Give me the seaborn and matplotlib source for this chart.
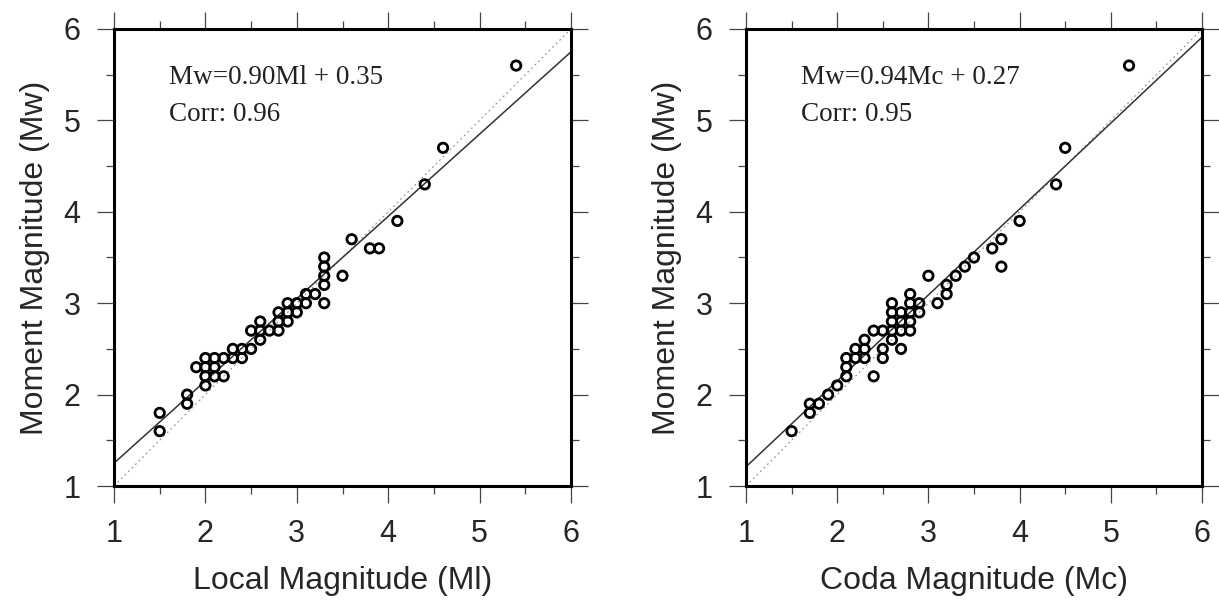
import numpy as np
import pandas as pd
import seaborn as sns
import matplotlib.pyplot as plt
from matplotlib.ticker import MultipleLocator

# Local magnitude vs moment magnitude
ml = [1.5, 1.5, 1.8, 1.8, 1.9, 2.0, 2.0, 2.0, 2.0, 2.1, 2.1, 2.1, 2.2, 2.2,
      2.3, 2.3, 2.4, 2.4, 2.5, 2.5, 2.6, 2.6, 2.6, 2.7, 2.8, 2.8, 2.8, 2.9,
      2.9, 2.9, 3.0, 3.0, 3.1, 3.1, 3.2, 3.3, 3.3, 3.3, 3.3, 3.3, 3.5, 3.6,
      3.8, 3.9, 4.1, 4.4, 4.6, 5.4]
mw_ml = [1.8, 1.6, 2.0, 1.9, 2.3, 2.4, 2.3, 2.2, 2.1, 2.4, 2.3, 2.2, 2.4, 2.2,
         2.5, 2.4, 2.5, 2.4, 2.5, 2.7, 2.8, 2.7, 2.6, 2.7, 2.7, 2.8, 2.9, 2.9,
         3.0, 2.8, 3.0, 2.9, 3.1, 3.0, 3.1, 3.5, 3.4, 3.3, 3.2, 3.0, 3.3, 3.7,
         3.6, 3.6, 3.9, 4.3, 4.7, 5.6]

# Coda magnitude vs moment magnitude
mc = [1.5, 1.7, 1.7, 1.8, 1.9, 2.0, 2.1, 2.1, 2.1, 2.2, 2.2, 2.3, 2.3, 2.3,
      2.4, 2.4, 2.5, 2.5, 2.5, 2.6, 2.6, 2.6, 2.6, 2.6, 2.7, 2.7, 2.7, 2.7,
      2.8, 2.8, 2.8, 2.8, 2.8, 2.9, 2.9, 3.0, 3.1, 3.2, 3.2, 3.3, 3.4, 3.5,
      3.7, 3.8, 3.8, 4.0, 4.4, 4.5, 5.2]
mw_mc = [1.6, 1.9, 1.8, 1.9, 2.0, 2.1, 2.4, 2.3, 2.2, 2.5, 2.4, 2.6, 2.5, 2.4,
         2.7, 2.2, 2.7, 2.5, 2.4, 3.0, 2.9, 2.8, 2.7, 2.6, 2.9, 2.8, 2.7, 2.5,
         3.1, 3.0, 2.9, 2.8, 2.7, 3.0, 2.9, 3.3, 3.0, 3.1, 3.2, 3.3, 3.4, 3.5,
         3.6, 3.7, 3.4, 3.9, 4.3, 4.7, 5.6]

fit_ml = (0.90, 0.35, 0.96)
fit_mc = (0.94, 0.27, 0.95)

sns.set_theme(style="ticks")
plt.rcParams['font.family'] = ['Liberation Sans', 'DejaVu Sans']

fig = plt.figure(figsize=(12.19, 6.04), dpi=100)
ax1 = fig.add_axes([114 / 1219, 118 / 604, 457 / 1219, 457 / 604])
ax2 = fig.add_axes([746 / 1219, 118 / 604, 456 / 1219, 457 / 604])

panels = [
    (ax1, ml, mw_ml, fit_ml, "Ml", "Local Magnitude (Ml)"),
    (ax2, mc, mw_mc, fit_mc, "Mc", "Coda Magnitude (Mc)"),
]

for ax, xs, ys, (slope, icpt, corr), sym, xlabel in panels:
    df = pd.DataFrame({"x": xs, "y": ys})
    lim = np.array([1.0, 6.0])

    # 1:1 reference line
    sns.lineplot(x=lim, y=lim, ax=ax, color="#9a9a9a", lw=0.9,
                 linestyle=(0, (1.5, 2.5)), zorder=1)
    # regression line
    sns.lineplot(x=lim, y=slope * lim + icpt, ax=ax, color="#333333",
                 lw=1.1, zorder=2)
    sns.scatterplot(data=df, x="x", y="y", ax=ax, marker="o", s=46,
                    facecolor="none", edgecolor="black", linewidth=2.0,
                    zorder=3)

    ax.set_xlim(1, 6)
    ax.set_ylim(1, 6)
    ax.xaxis.set_major_locator(MultipleLocator(1))
    ax.yaxis.set_major_locator(MultipleLocator(1))
    ax.xaxis.set_minor_locator(MultipleLocator(0.5))
    ax.yaxis.set_minor_locator(MultipleLocator(0.5))
    ax.tick_params(which="both", direction="out", top=True, right=True,
                   color="#444444", width=0.9)
    ax.tick_params(which="major", length=12, pad=12, labelsize=22,
                   labeltop=False, labelright=False)
    ax.tick_params(which="minor", length=6)
    for sp in ax.spines.values():
        sp.set_linewidth(2.2)
        sp.set_color("black")

    ax.set_xlabel(xlabel, fontsize=23, labelpad=12)
    ax.set_ylabel("Moment Magnitude (Mw)", fontsize=23, labelpad=10)

    ax.text(1.6, 5.4, f"Mw={slope:.2f}{sym} + {icpt:.2f}",
            family=["Liberation Serif", "DejaVu Serif"], fontsize=19.5,
            color="#222222")
    ax.text(1.6, 4.99, f"Corr: {corr:.2f}",
            family=["Liberation Serif", "DejaVu Serif"], fontsize=19.5,
            color="#222222")

fig.savefig("out.png", dpi=100)
